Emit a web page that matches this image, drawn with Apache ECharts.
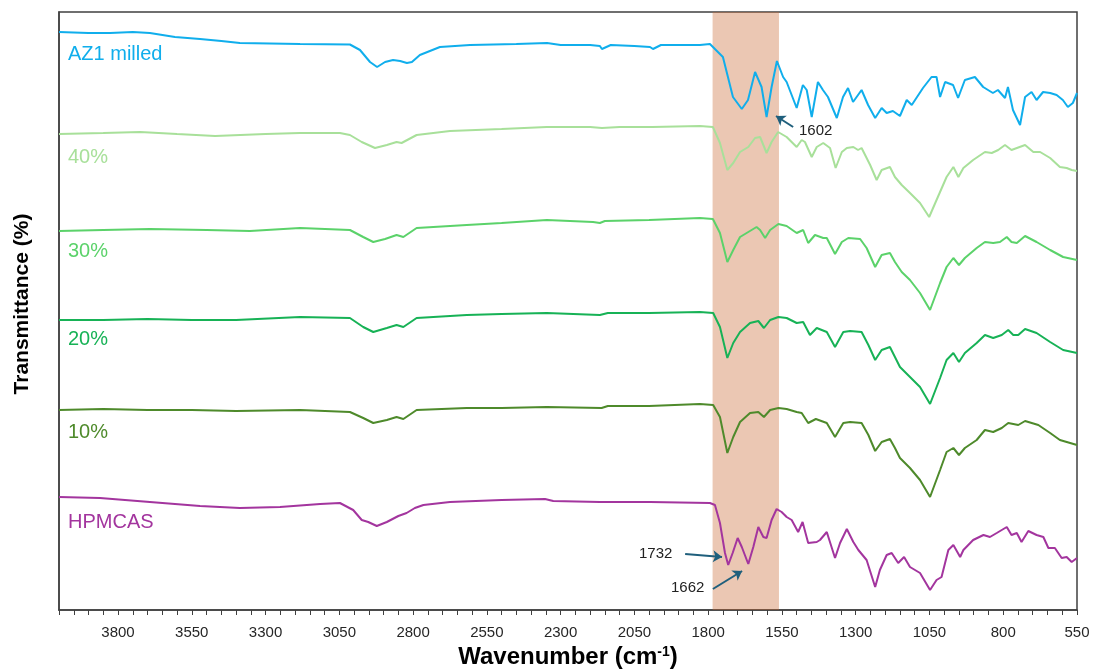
<!DOCTYPE html>
<html>
<head>
<meta charset="utf-8">
<script src="https://cdn.jsdelivr.net/npm/echarts@6/dist/echarts.min.js"></script>
<style>
html,body{margin:0;padding:0;background:#fff;}
#chart{width:1093px;height:672px;}
</style>
</head>
<body>
<div id="chart"></div>
<script>
// Wavenumber (cm-1) vs offset transmittance (arbitrary units, stacked)
const tickLabels = [3800, 3550, 3300, 3050, 2800, 2550, 2300, 2050, 1800, 1550, 1300, 1050, 800, 550];
const seriesNames = ['AZ1 milled', '40%', '30%', '20%', '10%', 'HPMCAS'];

const azMilled = [
[4000,578],[3900,577],[3827,577],[3750,578],[3692,577],[3607,573],[3522,571],[3450,569],[3387,567],[3183,566],[3014,565.5],[2980,560],[2946,548],[2922,543],[2895,548],[2868,550],[2844,549],[2821,547],[2804,548],[2777,555],[2709,563],[2607,565],[2450,566],[2346,567],[2300,565],[2200,565],[2167,564],[2160,561],[2130,565],[2050,564],[1997,563],[1987,561],[1960,565],[1828,565],[1794,566],[1788,565.7],[1750,553],[1716,513],[1686,501],[1665,510],[1641,538],[1636,539],[1619,523],[1602,493],[1585,523],[1567,549],[1546,533],[1534,528],[1500,502],[1479,525],[1466,520],[1449,493],[1428,528],[1411,520],[1394,513],[1364,492],[1343,513],[1326,522],[1309,508],[1280,520],[1258,505],[1234,492],[1212,502],[1195,497],[1174,499],[1150,494],[1127,510],[1110,505],[1072,522],[1043,533],[1026,533],[1014,513],[997,528],[970,525],[953,512],[930,530],[896,533],[868,523],[835,517],[818,520],[794,512],[784,523],[767,500],[743,485],[726,513],[704,518],[687,510],[665,518],[641,517],[619,515],[598,510],[581,503],[564,507],[550,517]
];
const pct40 = [
[4000,476],[3850,477],[3725,478],[3600,476],[3471,474],[3300,476],[3183,477],[3048,477],[3014,475],[2974,468],[2929,462],[2889,465],[2856,468],[2839,467],[2788,475],[2675,479],[2500,481],[2347,483],[2200,483],[2160,482],[2100,483],[1990,483],[1828,484],[1784,483],[1760,467],[1735,440],[1715,447],[1692,458],[1664,463],[1641,472],[1624,473],[1602,457],[1585,468],[1563,478],[1534,473],[1500,463],[1483,470],[1472,468],[1449,453],[1432,463],[1410,467],[1387,462],[1368,442],[1347,458],[1330,462],[1308,463],[1292,460],[1280,462],[1251,445],[1229,430],[1212,440],[1184,443],[1167,433],[1144,425],[1116,417],[1082,407],[1051,393],[1026,410],[992,433],[969,443],[952,433],[935,442],[902,450],[862,458],[839,457],[817,460],[794,465],[772,460],[726,465],[698,458],[675,458],[641,452],[608,443],[585,442],[568,440],[550,439]
];
const pct30 = [
[4000,379],[3850,380],[3692,381],[3500,380],[3353,379],[3183,382],[3014,380],[2969,373],[2935,368],[2895,371],[2856,375],[2833,373],[2788,382],[2618,385],[2500,387],[2347,390],[2190,388],[2167,387],[2150,389],[2000,390],[1828,392],[1784,391],[1760,377],[1735,348],[1715,360],[1692,373],[1664,378],[1636,383],[1624,380],[1607,372],[1590,380],[1562,386],[1534,384],[1500,377],[1478,380],[1461,367],[1438,375],[1410,372],[1398,372],[1370,356],[1347,368],[1325,372],[1285,371],[1263,362],[1234,343],[1212,355],[1184,357],[1167,348],[1144,338],[1116,330],[1082,317],[1048,300],[1014,327],[992,343],[969,352],[950,345],[930,352],[890,362],[862,368],[834,367],[811,368],[788,373],[772,368],[754,367],[726,374],[687,368],[641,360],[597,353],[550,350]
];
const pct20 = [
[4000,290],[3850,290],[3700,291],[3550,290],[3400,290],[3183,293],[3014,292],[2969,283],[2935,278],[2889,282],[2856,285],[2833,283],[2788,292],[2618,295],[2500,296],[2347,297],[2167,295],[2140,297],[2000,297],[1828,298],[1783,297],[1760,283],[1735,252],[1715,267],[1692,278],[1658,287],[1630,289],[1611,282],[1590,290],[1562,293],[1534,292],[1500,287],[1478,288],[1455,275],[1432,282],[1398,278],[1370,263],[1342,278],[1319,279],[1280,278],[1257,265],[1234,250],[1212,260],[1184,263],[1167,253],[1150,243],[1116,233],[1082,223],[1048,206],[1014,232],[992,250],[969,257],[950,248],[930,257],[890,267],[862,275],[834,272],[805,275],[783,280],[766,275],[749,275],[726,281],[687,277],[641,268],[597,260],[550,257]
];
const pct10 = [
[4000,200],[3850,201],[3700,200],[3550,200],[3400,199],[3183,200],[3014,198],[2969,192],[2935,187],[2889,190],[2856,193],[2833,191],[2788,200],[2618,202],[2500,202],[2347,203],[2161,202],[2140,204],[2000,204],[1828,206],[1783,205],[1760,193],[1735,157],[1715,173],[1692,188],[1658,197],[1630,198],[1611,193],[1590,200],[1562,202],[1534,201],[1500,198],[1483,197],[1461,187],[1435,191],[1398,187],[1370,173],[1342,187],[1319,188],[1280,187],[1257,175],[1234,159],[1212,168],[1184,171],[1167,162],[1150,152],[1116,142],[1082,130],[1048,113],[1014,140],[992,158],[969,162],[950,155],[930,162],[890,170],[862,180],[834,178],[805,182],[783,187],[749,185],[726,189],[681,185],[641,177],[608,170],[550,165]
];
const hpmcas = [
[4000,113],[3861,112],[3692,108],[3522,104],[3387,102],[3251,103],[3115,106],[3048,107],[3003,100],[2974,90],[2952,88],[2923,84],[2889,88],[2850,94],[2822,97],[2794,102],[2765,105],[2675,108],[2500,110],[2353,111],[2347,113],[2325,109],[2167,108],[1997,108],[1794,107],[1777,105],[1760,87],[1743,57],[1732,45],[1717,57],[1700,72],[1686,63],[1664,46],[1647,63],[1630,83],[1613,73],[1602,72],[1585,90],[1568,101],[1551,98],[1534,93],[1517,90],[1495,78],[1480,88],[1461,67],[1432,68],[1421,70],[1398,78],[1370,52],[1353,67],[1330,81],[1308,68],[1291,60],[1263,50],[1234,23],[1218,40],[1195,55],[1178,57],[1156,47],[1136,53],[1116,43],[1082,37],[1048,20],[1026,30],[1009,33],[986,60],[969,65],[946,53],[935,60],[902,70],[867,75],[845,73],[822,77],[788,83],[772,75],[754,77],[738,68],[715,79],[687,75],[664,73],[647,62],[625,62],[602,52],[585,53],[568,48],[550,52]
];
const seriesData = [azMilled, pct40, pct30, pct20, pct10, hpmcas];
const seriesColors = ['#10aeec', '#a8e09a', '#5bd26a', '#17b256', '#4e8a2b', '#a3359e'];

// highlighted carbonyl band (cm-1)
const bandRange = [1785, 1560];
// peak annotations: label, arrow start [wn, y], arrow end [wn, y]
const annotLabels = ['1602', '1732', '1662'];
const annotFrom = [[1512, 483], [1878, 56], [1784, 21]];
const annotTo = [[1570, 494], [1753, 53], [1685, 39]];

const FONT = '"Liberation Sans", Arial, sans-serif';
const chart = echarts.init(document.getElementById('chart'), null, {renderer: 'canvas'});

const series = seriesData.map((d, i) => ({
  name: seriesNames[i],
  type: 'line',
  data: d,
  showSymbol: false,
  symbol: 'none',
  smooth: false,
  z: 2,
  lineStyle: {color: seriesColors[i], width: 2},
  itemStyle: {color: seriesColors[i]}
}));

series.push({
  name: 'band',
  type: 'line',
  data: [],
  z: 5,
  markArea: {
    silent: true,
    itemStyle: {color: 'rgba(200,104,50,0.37)'},
    data: [[{xAxis: bandRange[0]}, {xAxis: bandRange[1]}]]
  }
});

series.push({
  name: 'annotations',
  type: 'line',
  data: [],
  z: 6,
  markLine: {
    silent: true,
    symbol: ['none', 'arrow'],
    symbolSize: 9,
    label: {show: false},
    lineStyle: {color: '#1f5f7c', width: 2, type: 'solid'},
    data: annotFrom.map((f, i) => [{coord: f}, {coord: annotTo[i]}])
  }
});

const labelTops = [44, 147, 241, 329, 422, 512];
const graphics = seriesNames.map((n, i) => ({
  type: 'text', left: 68, top: labelTops[i], z: 10,
  style: {text: n, fill: seriesColors[i], font: '20px ' + FONT}
}));
const annotPos = [[799, 123], [639, 546], [671, 580]];
annotLabels.forEach((t, i) => graphics.push({
  type: 'text', left: annotPos[i][0], top: annotPos[i][1], z: 10,
  style: {text: t, fill: '#222', font: '15px ' + FONT}
}));

chart.setOption({
  animation: false,
  backgroundColor: '#fff',
  grid: {left: 59, right: 16, top: 12, bottom: 62, containLabel: false, outerBoundsMode: 'none',
         show: true, borderColor: '#404040', borderWidth: 1.5},
  xAxis: {
    type: 'value', inverse: true, min: 550, max: 4000, interval: 50,
    name: '{a|Wavenumber (cm}{b|-1}{a|)}',
    nameLocation: 'middle', nameGap: 35,
    nameTextStyle: {
      rich: {
        a: {fontSize: 24, fontWeight: 'bold', color: '#000', fontFamily: FONT},
        b: {fontSize: 14, fontWeight: 'bold', color: '#000', fontFamily: FONT, verticalAlign: 'top'}
      }
    },
    axisLine: {lineStyle: {color: '#404040', width: 1.5}},
    axisTick: {show: true, length: 5, lineStyle: {color: '#404040', width: 1}},
    axisLabel: {
      margin: 15, fontSize: 15, color: '#262626', fontFamily: FONT,
      formatter: v => tickLabels.indexOf(Math.round(v)) >= 0 ? String(Math.round(v)) : ''
    },
    splitLine: {show: false}
  },
  yAxis: {
    type: 'value', min: 0, max: 598,
    name: 'Transmittance (%)', nameLocation: 'middle', nameGap: 26,
    nameTextStyle: {fontSize: 21, fontWeight: 'bold', color: '#000', fontFamily: FONT, padding: [0, 0, 0, 14]},
    axisLine: {show: true, lineStyle: {color: '#404040', width: 1.5}},
    axisTick: {show: false}, axisLabel: {show: false}, splitLine: {show: false}
  },
  series: series,
  graphic: graphics
});
</script>
</body>
</html>
